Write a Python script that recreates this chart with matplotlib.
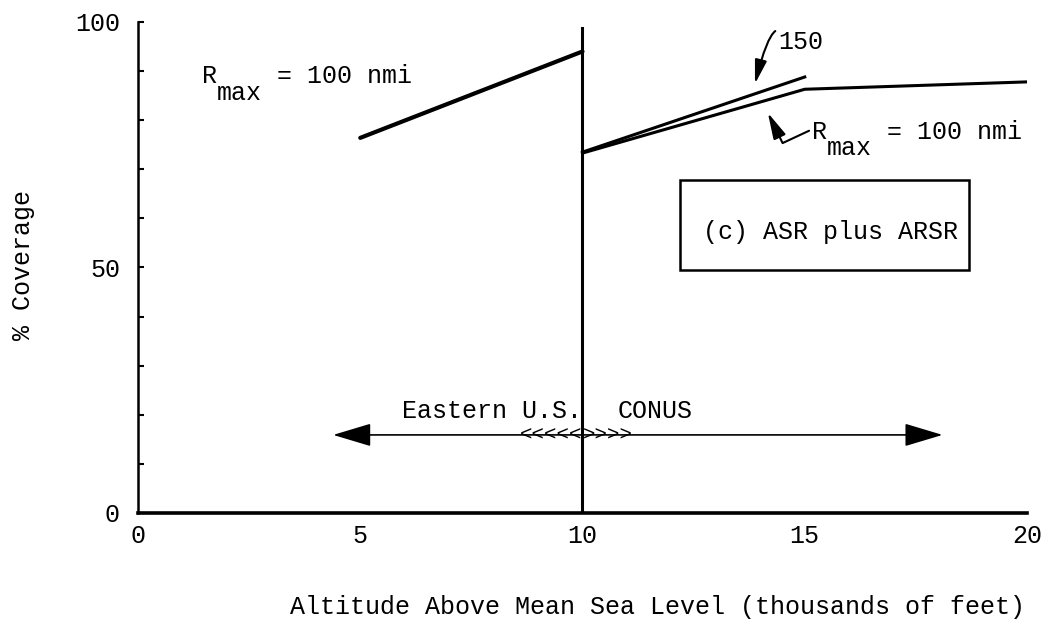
import matplotlib.pyplot as plt
from matplotlib.patches import Rectangle

# typewriter look
plt.rcParams['font.family'] = ['Liberation Mono', 'DejaVu Sans Mono']

# data (altitude in thousands of feet, % coverage)
east_alt = [5, 10]
east_cov = [76.4, 94.0]

conus100_alt = [10, 15, 20]
conus100_cov = [73.3, 86.3, 87.8]

conus150_alt = [10, 15]
conus150_cov = [73.5, 88.8]

divider_alt = 10
divider_top = 98.8

x_ticks = [0, 5, 10, 15, 20]
y_ticks = [0, 50, 100]
y_minor = list(range(0, 101, 10))

fig = plt.figure(figsize=(10.44, 6.23), dpi=100)
ax = fig.add_axes([0.1322, 0.1766, 0.8515, 0.7881])

ax.set_xlim(0, 20)
ax.set_ylim(0, 100)
ax.spines['top'].set_visible(False)
ax.spines['right'].set_visible(False)
ax.spines['left'].set_linewidth(1.8)
ax.spines['bottom'].set_linewidth(2.6)

ax.set_xticks(x_ticks)
ax.set_yticks(y_ticks)
ax.set_yticks(y_minor, minor=True)
ax.tick_params(axis='x', length=0, pad=8, labelsize=18)
ax.tick_params(axis='y', which='both', direction='in', length=4, width=1.5, pad=13, labelsize=18)

# curves
ax.plot(east_alt, east_cov, color='black', lw=3.0, solid_capstyle='round')
ax.plot([divider_alt, divider_alt], [0, divider_top], color='black', lw=2.2)
ax.plot(conus100_alt, conus100_cov, color='black', lw=2.2)
ax.plot(conus150_alt, conus150_cov, color='black', lw=2.2)

# one typed character is 15 px wide -> in x data units
cw = 20 / 889 * 15


def rmax_label(x, y, sub_drop):
    ax.text(x + cw, y - sub_drop, 'max', fontsize=18, va='baseline')
    ax.text(x + 5 * cw, y, '= 100 nmi', fontsize=18, va='baseline')


# R_max labels (typed subscript on a lower line)
ax.text(1.44, 87.6, 'R', fontsize=18, va='baseline')
rmax_label(1.44, 87.6, 3.5)

ax.annotate('R', xy=(14.17, 81.5), xytext=(15.16, 76.2),
            fontsize=18, va='baseline',
            arrowprops=dict(arrowstyle='-|>,head_length=1.6,head_width=0.4',
                            mutation_scale=10, color='black', lw=1.5,
                            connectionstyle='angle,angleA=25,angleB=116,rad=0',
                            relpos=(0, 0.6), shrinkA=0, shrinkB=0))
rmax_label(15.16, 76.2, 3.3)

ax.annotate('150', xy=(13.88, 87.4), xytext=(14.40, 94.5),
            fontsize=18, va='baseline',
            arrowprops=dict(arrowstyle='-|>,head_length=1.44,head_width=0.36',
                            mutation_scale=10, color='black', lw=1.5,
                            connectionstyle='angle3,angleA=180,angleB=76',
                            relpos=(0, 1), shrinkA=0, shrinkB=0))

# panel label box
ax.add_patch(Rectangle((12.2, 49.5), 6.5, 18.3, fill=False, lw=1.8, color='black'))
ax.text(12.71, 55.8, '(c) ASR plus ARSR', fontsize=18, va='baseline')

# region arrow
ax.annotate('', xy=(4.39, 15.9), xytext=(18.1, 15.9),
            arrowprops=dict(arrowstyle='<|-|>,head_length=1.6,head_width=0.48',
                            mutation_scale=15, color='black', lw=1.2,
                            shrinkA=0, shrinkB=0))
ax.text(5.94, 19.3, 'Eastern U.S.', fontsize=18, va='baseline')
ax.text(10.78, 19.3, 'CONUS', fontsize=18, va='baseline')
ax.text(10.0, 15.9, '<<<<<', fontsize=15, ha='right', va='center')
ax.text(10.0, 15.9, '>>>>', fontsize=15, ha='left', va='center')

ax.set_xlabel('Altitude Above Mean Sea Level (thousands of feet)', fontsize=18,
              ha='right', va='center')
ax.xaxis.set_label_coords(0.9978, -0.1914)
ax.set_ylabel('% Coverage', fontsize=18, va='center')
ax.yaxis.set_label_coords(-0.1294, 0.505)

fig.savefig('out.png', dpi=100)
